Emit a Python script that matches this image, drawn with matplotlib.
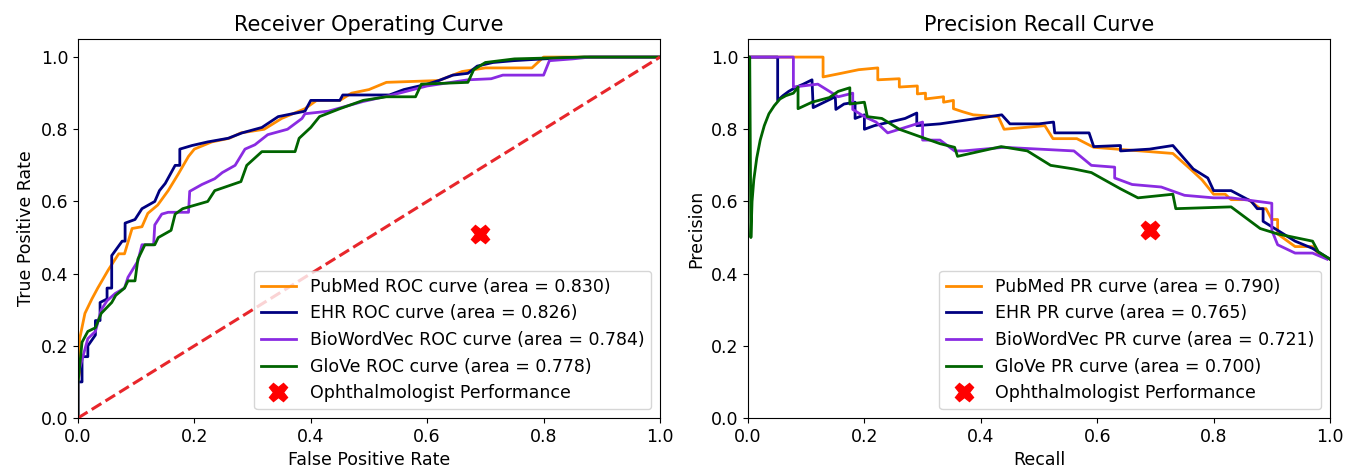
import matplotlib
matplotlib.use("Agg")
import matplotlib.pyplot as plt

plt.rc('font', family='DejaVu Sans', size=12.5)

# ---- ROC curves (false positive rate, true positive rate)
pubmed_fpr = [0, 0, 0.003, 0.003, 0.012, 0.024, 0.034, 0.052, 0.07, 0.08, 0.093, 0.11, 0.12, 0.137,
              0.155, 0.172, 0.19, 0.20, 0.23, 0.26, 0.28, 0.32, 0.35, 0.39, 0.41, 0.45, 0.47, 0.50,
              0.53, 0.62, 0.66, 0.70, 0.78, 0.80, 1.0]
pubmed_tpr = [0, 0.10, 0.13, 0.22, 0.29, 0.33, 0.36, 0.41, 0.455, 0.455, 0.525, 0.53, 0.567, 0.59,
              0.63, 0.675, 0.725, 0.745, 0.765, 0.775, 0.79, 0.80, 0.83, 0.857, 0.88, 0.88, 0.90, 0.91,
              0.93, 0.935, 0.96, 0.97, 0.97, 1.0, 1.0]

ehr_fpr = [0, 0, 0.007, 0.007, 0.017, 0.017, 0.03, 0.03, 0.038, 0.038, 0.05, 0.05, 0.058, 0.058, 0.076,
           0.081, 0.081, 0.098, 0.11, 0.132, 0.14, 0.15, 0.167, 0.175, 0.175, 0.196, 0.223, 0.258,
           0.282, 0.316, 0.344, 0.39, 0.40, 0.45, 0.455, 0.535, 0.56, 0.60, 0.62, 0.644, 0.67, 0.686,
           0.713, 0.748, 0.80, 0.87, 1.0]
ehr_tpr = [0, 0.10, 0.10, 0.17, 0.17, 0.20, 0.23, 0.27, 0.27, 0.32, 0.33, 0.36, 0.36, 0.45, 0.49,
           0.49, 0.54, 0.55, 0.58, 0.60, 0.63, 0.65, 0.70, 0.70, 0.745, 0.755, 0.765, 0.775, 0.79,
           0.805, 0.835, 0.85, 0.88, 0.88, 0.895, 0.895, 0.91, 0.925, 0.935, 0.95, 0.955, 0.975, 0.985,
           0.99, 0.995, 1.0, 1.0]

bio_fpr = [0, 0, 0.017, 0.03, 0.04, 0.05, 0.064, 0.08, 0.086, 0.103, 0.11, 0.13, 0.132, 0.144, 0.155,
           0.19, 0.192, 0.213, 0.235, 0.248, 0.27, 0.287, 0.304, 0.326, 0.36, 0.385, 0.39, 0.43, 0.49,
           0.54, 0.60, 0.67, 0.71, 0.73, 0.80, 0.81, 0.85, 0.88, 1.0]
bio_tpr = [0, 0.12, 0.22, 0.24, 0.30, 0.325, 0.345, 0.36, 0.39, 0.435, 0.48, 0.48, 0.535, 0.565, 0.57,
           0.57, 0.628, 0.647, 0.663, 0.68, 0.70, 0.745, 0.757, 0.785, 0.80, 0.83, 0.843, 0.85, 0.877,
           0.895, 0.92, 0.937, 0.94, 0.95, 0.95, 0.99, 0.995, 1.0, 1.0]

glove_fpr = [0, 0, 0.007, 0.017, 0.03, 0.04, 0.058, 0.065, 0.08, 0.086, 0.098, 0.103, 0.115, 0.132,
             0.138, 0.16, 0.167, 0.18, 0.223, 0.235, 0.28, 0.29, 0.316, 0.373, 0.38, 0.40, 0.415,
             0.45, 0.49, 0.53, 0.58, 0.59, 0.67, 0.68, 0.70, 0.75, 0.87, 1.0]
glove_tpr = [0, 0.096, 0.21, 0.24, 0.25, 0.29, 0.32, 0.34, 0.36, 0.38, 0.38, 0.44, 0.48, 0.48,
             0.50, 0.52, 0.565, 0.58, 0.60, 0.63, 0.655, 0.70, 0.738, 0.738, 0.775, 0.805, 0.835,
             0.857, 0.88, 0.89, 0.89, 0.925, 0.93, 0.965, 0.985, 0.995, 1.0, 1.0]

# ---- Precision-recall curves (recall, precision)
pubmed_rec = [0, 0.129, 0.129, 0.16, 0.19, 0.223, 0.223, 0.26, 0.26, 0.291, 0.291, 0.305, 0.305,
              0.336, 0.336, 0.353, 0.353, 0.37, 0.387, 0.43, 0.44, 0.51, 0.524, 0.565, 0.594, 0.73,
              0.76, 0.78, 0.79, 0.80, 0.82, 0.83, 0.86, 0.88, 0.89, 0.90, 0.91, 0.91, 0.94, 0.97,
              0.98, 1.0]
pubmed_prec = [1.0, 1.0, 0.945, 0.955, 0.965, 0.97, 0.937, 0.94, 0.917, 0.92, 0.898, 0.90, 0.884,
               0.89, 0.875, 0.88, 0.857, 0.848, 0.84, 0.835, 0.80, 0.81, 0.774, 0.774, 0.75, 0.733,
               0.69, 0.66, 0.64, 0.62, 0.62, 0.605, 0.605, 0.58, 0.58, 0.55, 0.55, 0.51, 0.475,
               0.475, 0.455, 0.44]

ehr_rec = [0, 0.051, 0.051, 0.06, 0.07, 0.082, 0.095, 0.11, 0.112, 0.15, 0.151, 0.165, 0.184, 0.184,
           0.20, 0.20, 0.217, 0.27, 0.29, 0.29, 0.33, 0.436, 0.45, 0.50, 0.525, 0.527, 0.586, 0.594,
           0.64, 0.64, 0.69, 0.73, 0.765, 0.79, 0.80, 0.83, 0.865, 0.875, 0.885, 0.885, 0.92, 0.94,
           0.97, 1.0]
ehr_prec = [1.0, 1.0, 0.88, 0.893, 0.905, 0.916, 0.925, 0.937, 0.86, 0.89, 0.855, 0.87, 0.875, 0.83,
            0.84, 0.80, 0.81, 0.83, 0.845, 0.81, 0.815, 0.84, 0.815, 0.815, 0.82, 0.79, 0.79, 0.752,
            0.755, 0.74, 0.745, 0.755, 0.69, 0.665, 0.63, 0.63, 0.60, 0.58, 0.58, 0.545, 0.51, 0.49,
            0.47, 0.44]

bio_rec = [0, 0.078, 0.078, 0.12, 0.155, 0.18, 0.18, 0.20, 0.22, 0.24, 0.30, 0.30, 0.33, 0.355, 0.37,
           0.44, 0.50, 0.56, 0.59, 0.63, 0.63, 0.66, 0.71, 0.75, 0.80, 0.83, 0.90, 0.90, 0.91, 0.94,
           0.97, 0.995]
bio_prec = [1.0, 1.0, 0.917, 0.925, 0.89, 0.90, 0.855, 0.835, 0.82, 0.79, 0.82, 0.77, 0.77, 0.74, 0.74,
            0.75, 0.745, 0.74, 0.70, 0.695, 0.665, 0.647, 0.64, 0.617, 0.61, 0.61, 0.595, 0.52, 0.48,
            0.457, 0.457, 0.44]

glove_rec = [0, 0.003, 0.005, 0.007, 0.01, 0.015, 0.021, 0.028, 0.036, 0.045, 0.055, 0.065, 0.078,
             0.086, 0.086, 0.11, 0.14, 0.155, 0.175, 0.175, 0.20, 0.205, 0.23, 0.26, 0.30, 0.33,
             0.355, 0.36, 0.435, 0.48, 0.52, 0.56, 0.59, 0.64, 0.67, 0.73, 0.735, 0.83, 0.88, 0.91,
             0.97, 0.98, 1.0]
glove_prec = [1.0, 1.0, 0.50, 0.60, 0.66, 0.72, 0.77, 0.81, 0.843, 0.865, 0.884, 0.893, 0.90,
              0.917, 0.857, 0.875, 0.888, 0.905, 0.915, 0.87, 0.875, 0.835, 0.83, 0.80, 0.777, 0.76,
              0.75, 0.725, 0.752, 0.74, 0.70, 0.69, 0.68, 0.635, 0.61, 0.62, 0.58, 0.585, 0.525,
              0.51, 0.49, 0.46, 0.44]

doctor_roc = (0.69, 0.51)
doctor_pr = (0.69, 0.52)

names = ["PubMed", "EHR", "BioWordVec", "GloVe"]
roc_auc = [0.830, 0.826, 0.784, 0.778]
pr_auc = [0.790, 0.765, 0.721, 0.700]
colors = ["darkorange", "navy", "blueviolet", "darkgreen"]

roc_curves = [(pubmed_fpr, pubmed_tpr), (ehr_fpr, ehr_tpr), (bio_fpr, bio_tpr), (glove_fpr, glove_tpr)]
pr_curves = [(pubmed_rec, pubmed_prec), (ehr_rec, ehr_prec), (bio_rec, bio_prec), (glove_rec, glove_prec)]

fig = plt.figure(figsize=(13.58, 4.76), dpi=100)
ax1 = fig.add_axes([0.0574, 0.1218, 0.4286, 0.7962])
ax2 = fig.add_axes([0.5508, 0.1218, 0.4286, 0.7962])

# ROC
for (x, y), name, auc, c in zip(roc_curves, names, roc_auc, colors):
    ax1.plot(x, y, color=c, lw=2, label="%s ROC curve (area = %0.3f)" % (name, auc))
ax1.plot([0, 1], [0, 1], color="#e8262b", lw=2.2, linestyle="--")
ax1.plot(*doctor_roc, "X", color="red", markersize=13, linestyle="none",
         label="Ophthalmologist Performance")
ax1.set_xlim(0.0, 1.0)
ax1.set_ylim(0.0, 1.05)
ax1.set_xlabel("False Positive Rate")
ax1.set_ylabel("True Positive Rate")
ax1.set_title("Receiver Operating Curve", fontsize=15)
ax1.legend(loc="lower right", fontsize=12.5)

# PR
for (x, y), name, auc, c in zip(pr_curves, names, pr_auc, colors):
    ax2.plot(x, y, color=c, lw=2, label="%s PR curve (area = %0.3f)" % (name, auc))
ax2.plot(*doctor_pr, "X", color="red", markersize=13, linestyle="none",
         label="Ophthalmologist Performance")
ax2.set_xlim(0.0, 1.0)
ax2.set_ylim(0.0, 1.05)
ax2.set_xlabel("Recall")
ax2.set_ylabel("Precision")
ax2.set_title("Precision Recall Curve", fontsize=15)
ax2.legend(loc="lower right", fontsize=12.5)

plt.savefig("out.png", dpi=100)
